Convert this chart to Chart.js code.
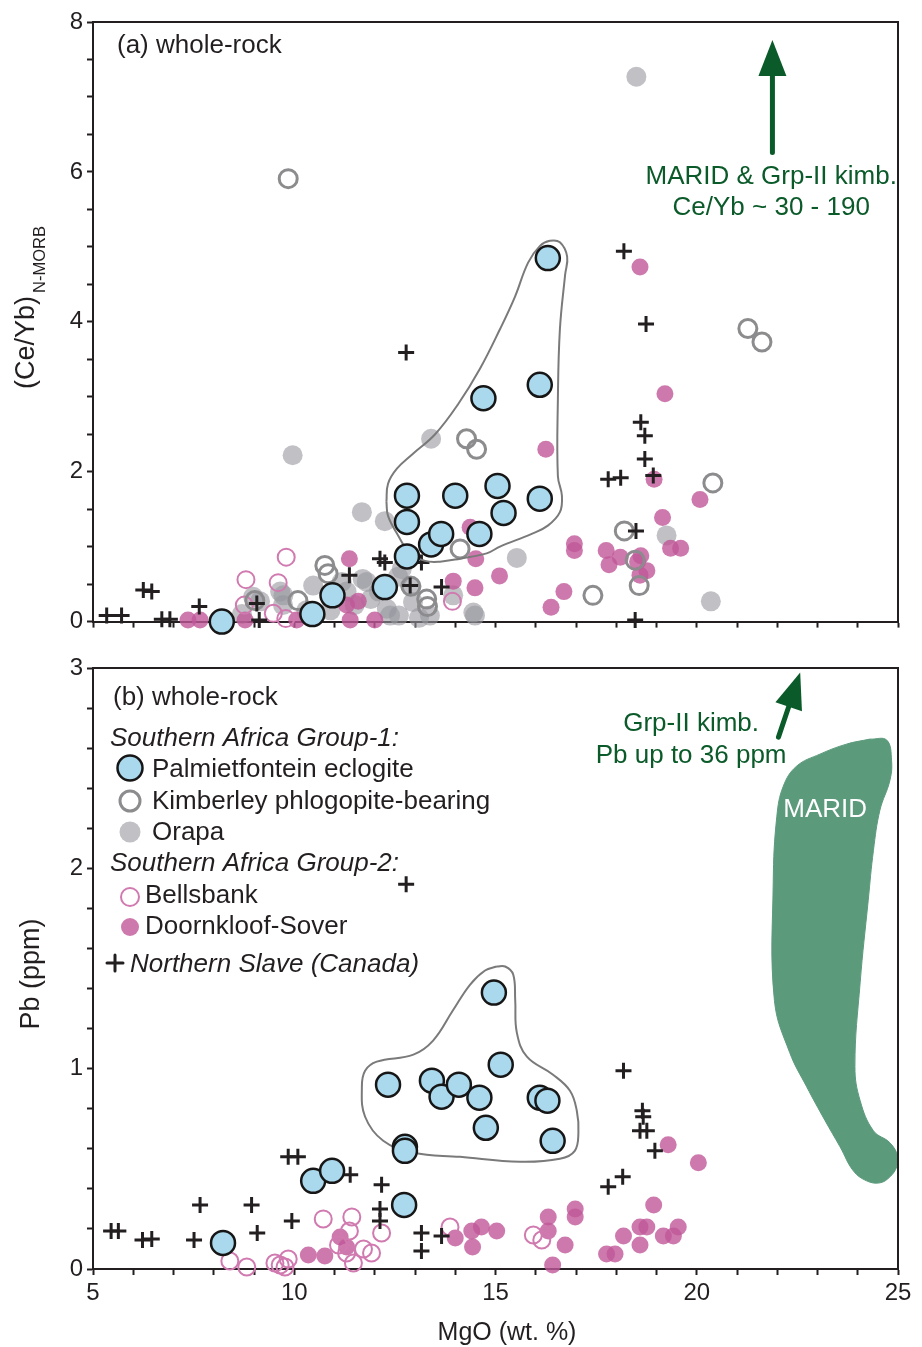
<!DOCTYPE html>
<html>
<head>
<meta charset="utf-8">
<title>MgO vs (Ce/Yb)N-MORB and Pb</title>
<script src="https://cdn.jsdelivr.net/npm/chart.js@4.4.1/dist/chart.umd.min.js"></script>
<style>
  html, body { margin: 0; padding: 0; background: #fff; }
  #wrap { position: relative; width: 922px; height: 1347px; }
  #wrap canvas { position: absolute; left: 0; }
  #chartA { top: 0; }
  #chartB { top: 640px; }
</style>
</head>
<body>
<div id="wrap">
  <canvas id="chartA" width="922" height="640"></canvas>
  <canvas id="chartB" width="922" height="707"></canvas>
</div>
<script>
// ---- panel (a): [MgO wt.%, (Ce/Yb)N-MORB] ----
const palmCeYb = [[8.2,0.0],[10.45,0.1],[10.95,0.35],[12.25,0.46],[12.8,0.87],[12.8,1.33],[12.8,1.68],[13.4,1.03],[13.65,1.17],[14.0,1.68],[14.6,1.17],[14.7,2.98],[15.05,1.81],[15.2,1.45],[16.1,3.16],[16.1,1.64],[16.3,4.85]];
const kimbCeYb = [[9.85,5.91],[21.27,3.91],[21.62,3.73],[20.4,1.85],[18.2,1.21],[18.47,0.82],[18.57,0.48],[17.42,0.35],[14.28,2.44],[14.53,2.3],[14.12,0.97],[10.76,0.75],[10.84,0.64],[10.09,0.28],[13.31,0.2],[13.29,0.3],[12.9,0.47],[9.02,0.28]];
const orapaCeYb = [[18.5,7.27],[9.96,2.22],[13.4,2.44],[11.68,1.46],[12.25,1.34],[15.53,0.85],[19.25,1.15],[20.35,0.27],[14.49,0.08],[11.7,0.57],[11.9,0.3],[12.3,0.17],[12.6,0.08],[12.95,0.26],[13.37,0.08],[13.95,0.35],[14.45,0.12],[12.58,0.6],[12.67,0.7],[11.5,0.22],[10.47,0.48],[9.73,0.35],[9.15,0.27],[11.18,0.53],[11.8,0.53],[12.88,0.48],[12.38,0.08],[8.98,0.33],[9.65,0.4],[9.72,0.22],[10.9,0.15],[11.3,0.4],[13.1,0.05],[12.1,0.4],[10.3,0.15],[8.7,0.1]];
const bellsCeYb = [[9.8,0.86],[8.8,0.56],[9.6,0.52],[8.76,0.22],[9.48,0.11],[9.79,0.04],[13.93,0.27],[10.4,0.08]];
const doornCeYb = [[18.59,4.73],[19.21,3.04],[16.25,2.3],[18.94,1.9],[20.08,1.63],[19.15,1.39],[19.35,0.98],[19.6,0.98],[16.96,1.04],[16.96,0.95],[17.75,0.95],[18.1,0.86],[17.82,0.76],[18.61,0.88],[18.53,0.8],[18.76,0.68],[18.59,0.62],[14.51,0.84],[15.1,0.61],[14.49,0.45],[16.7,0.4],[16.38,0.19],[14.37,1.26],[11.37,0.84],[13.95,0.54],[7.36,0.02],[7.66,0.02],[8.78,0.02],[10.06,0.02],[11.39,0.02],[12.0,0.02],[11.3,0.22],[11.59,0.27]];
const slaveCeYb = [[5.34,0.08],[5.71,0.08],[6.25,0.42],[6.46,0.4],[6.71,0.03],[6.91,0.03],[7.64,0.2],[9.13,0.02],[9.07,0.24],[11.37,0.62],[12.13,0.84],[12.25,0.79],[12.78,3.59],[13.66,0.46],[12.88,0.48],[13.16,0.79],[18.19,4.94],[18.74,3.97],[18.61,2.66],[18.71,2.48],[18.71,2.17],[18.92,1.95],[17.8,1.9],[18.11,1.92],[18.49,1.21],[18.47,0.02]];
// field drawn round the Palmietfontein samples
const palmFieldCeYb = [[12.29,1.6],[12.33,1.84],[12.55,2.04],[12.95,2.24],[13.5,2.5],[14.07,2.9],[14.61,3.37],[15.11,3.9],[15.48,4.33],[15.81,4.79],[16.1,5.01],[16.35,5.08],[16.6,5.06],[16.78,4.87],[16.73,4.63],[16.6,3.9],[16.55,2.97],[16.55,1.94],[16.65,1.68],[16.6,1.46],[16.3,1.28],[15.9,1.17],[15.11,1.0],[14.78,0.91],[14.12,0.84],[13.62,0.8],[13.25,0.81],[12.88,0.91],[12.58,1.15],[12.33,1.41],[12.29,1.6]];

// ---- panel (b): [MgO wt.%, Pb ppm] ----
const palmPb = [[8.23,0.13],[10.47,0.44],[10.94,0.49],[12.73,0.32],[12.75,0.61],[12.75,0.59],[12.33,0.92],[13.42,0.94],[13.66,0.86],[14.09,0.92],[14.6,0.855],[14.76,0.705],[14.96,1.38],[15.13,1.02],[16.1,0.855],[16.29,0.84],[16.42,0.64]];
const bellsPb = [[8.4,0.04],[8.82,0.01],[9.52,0.03],[9.65,0.02],[9.77,0.01],[9.85,0.05],[10.72,0.25],[11.43,0.26],[11.37,0.19],[12.17,0.18],[11.1,0.12],[11.3,0.08],[11.47,0.03],[11.72,0.1],[11.92,0.08],[13.87,0.21],[15.94,0.17],[16.15,0.145]];
const doornPb = [[10.35,0.07],[10.76,0.065],[11.14,0.16],[11.3,0.11],[14.0,0.155],[14.41,0.19],[14.65,0.21],[14.43,0.11],[15.03,0.19],[16.31,0.26],[16.31,0.19],[16.73,0.12],[16.42,0.02],[16.98,0.3],[16.98,0.26],[17.76,0.075],[17.97,0.075],[18.18,0.165],[18.59,0.21],[18.76,0.21],[18.59,0.12],[18.93,0.32],[19.17,0.165],[19.42,0.165],[19.54,0.21],[19.29,0.62],[20.04,0.53]];
const slavePb = [[5.45,0.19],[5.63,0.19],[6.23,0.145],[6.46,0.15],[7.51,0.145],[7.66,0.32],[8.94,0.32],[9.08,0.18],[9.94,0.24],[9.85,0.56],[10.09,0.56],[11.39,0.47],[12.17,0.42],[12.13,0.3],[12.13,0.24],[13.16,0.18],[13.16,0.09],[13.66,0.165],[12.78,1.92],[18.18,0.99],[18.65,0.79],[18.67,0.76],[18.59,0.69],[18.76,0.69],[18.96,0.59],[17.8,0.41],[18.16,0.46]];
const palmFieldPb = [[15.03,1.51],[14.74,1.49],[14.37,1.42],[13.94,1.29],[13.45,1.14],[12.96,1.07],[12.05,1.035],[11.76,0.99],[11.68,0.91],[11.76,0.76],[12.21,0.64],[12.96,0.58],[14.12,0.56],[15.61,0.535],[16.6,0.55],[16.97,0.59],[17.06,0.68],[17.02,0.79],[16.85,0.89],[16.43,0.97],[15.78,1.06],[15.53,1.18],[15.49,1.34],[15.44,1.47],[15.24,1.51],[15.03,1.51]];
const maridPb = [[24.3,2.645],[24.72,2.64],[24.84,2.54],[24.8,2.44],[24.55,2.29],[24.39,2.09],[24.26,1.84],[24.06,1.43],[23.93,1.01],[24.06,0.84],[24.39,0.69],[24.8,0.63],[25.0,0.56],[24.97,0.51],[24.8,0.46],[24.55,0.43],[24.22,0.44],[23.89,0.49],[23.56,0.61],[23.19,0.74],[22.73,0.91],[22.31,1.08],[21.93,1.34],[21.9,1.93],[21.99,2.26],[22.15,2.41],[22.48,2.51],[23.06,2.57],[23.72,2.62],[24.3,2.645]];

const FONT = '"Liberation Sans", Arial, Helvetica, sans-serif';
const INK = '#231f20';
const GREEN = '#0b5a2a';

const styles = {
  palm:  { pointRadius: 12, pointBackgroundColor: '#aad8ec', pointBorderColor: '#161616', pointBorderWidth: 2.5 },
  kimb:  { pointRadius: 9, pointBackgroundColor: 'rgba(0,0,0,0)', pointBorderColor: '#8c8c8e', pointBorderWidth: 3 },
  orapa: { pointRadius: 10, pointBackgroundColor: 'rgba(150,150,158,0.6)', pointBorderColor: 'rgba(0,0,0,0)', pointBorderWidth: 0 },
  bells: { pointRadius: 8.5, pointBackgroundColor: 'rgba(0,0,0,0)', pointBorderColor: '#d07ab0', pointBorderWidth: 2 },
  doorn: { pointRadius: 8.5, pointBackgroundColor: 'rgba(192,88,152,0.8)', pointBorderColor: 'rgba(0,0,0,0)', pointBorderWidth: 0 },
  slave: { pointStyle: 'cross', pointRadius: 8, pointBorderColor: INK, pointBorderWidth: 3 }
};

function toXY(arr) { return arr.map(p => ({ x: p[0], y: p[1] })); }

function points(label, arr, style) {
  return Object.assign({ label, data: toXY(arr), showLine: false, clip: false, pointStyle: 'circle' }, style,
    { pointHoverRadius: style.pointRadius });
}

function field(label, arr) {
  return { label, data: toXY(arr), showLine: true, pointRadius: 0, borderColor: '#7a7a7a', borderWidth: 2, tension: 0.4, fill: false };
}

function linAxis(min, max, step, labelFn, fit) {
  return {
    type: 'linear', min, max, afterFit: fit,
    ticks: { stepSize: step, autoSkip: false, maxRotation: 0, color: INK, padding: 4,
             font: { family: FONT, size: 24 }, callback: labelFn },
    grid: { drawOnChartArea: false, tickLength: 6, tickWidth: 2, tickColor: INK },
    border: { display: true, color: INK, width: 2 }
  };
}

function frame(chart) {
  const { ctx, chartArea: a } = chart;
  ctx.save();
  ctx.strokeStyle = INK; ctx.lineWidth = 2;
  ctx.beginPath();
  ctx.moveTo(a.left, a.top); ctx.lineTo(a.right, a.top); ctx.lineTo(a.right, a.bottom);
  ctx.stroke();
  ctx.restore();
}

function arrow(ctx, x0, y0, x1, y1) {
  const ang = Math.atan2(y1 - y0, x1 - x0);
  const len = 36, half = 14;
  const bx = x1 - len * Math.cos(ang), by = y1 - len * Math.sin(ang);
  ctx.strokeStyle = GREEN; ctx.fillStyle = GREEN; ctx.lineWidth = 5; ctx.lineCap = 'round';
  ctx.beginPath(); ctx.moveTo(x0, y0); ctx.lineTo(bx, by); ctx.stroke();
  ctx.beginPath();
  ctx.moveTo(x1, y1);
  ctx.lineTo(bx + half * Math.sin(ang), by - half * Math.cos(ang));
  ctx.lineTo(bx - half * Math.sin(ang), by + half * Math.cos(ang));
  ctx.closePath(); ctx.fill();
}

function text(ctx, s, x, y, opts) {
  opts = opts || {};
  ctx.font = (opts.italic ? 'italic ' : '') + (opts.size || 26) + 'px ' + FONT;
  ctx.fillStyle = opts.color || INK;
  ctx.textAlign = opts.align || 'left';
  ctx.textBaseline = 'middle';
  ctx.fillText(s, x, y);
}

function marker(ctx, kind, x, y) {
  const st = styles[kind];
  ctx.save();
  if (kind === 'slave') {
    ctx.strokeStyle = INK; ctx.lineWidth = 3;
    ctx.beginPath();
    ctx.moveTo(x - 8, y); ctx.lineTo(x + 8, y);
    ctx.moveTo(x, y - 8); ctx.lineTo(x, y + 8);
    ctx.stroke();
  } else {
    const r = { palm: 12.5, kimb: 10, orapa: 10.5, bells: 9, doorn: 9 }[kind];
    ctx.beginPath(); ctx.arc(x, y, r, 0, Math.PI * 2);
    ctx.fillStyle = st.pointBackgroundColor; ctx.fill();
    if (st.pointBorderWidth > 0) { ctx.lineWidth = st.pointBorderWidth; ctx.strokeStyle = st.pointBorderColor; ctx.stroke(); }
  }
  ctx.restore();
}

const decorA = {
  id: 'decorA',
  afterDraw(chart) {
    const ctx = chart.ctx, xs = chart.scales.x, ys = chart.scales.y;
    const px = v => xs.getPixelForValue(v), py = v => ys.getPixelForValue(v);
    frame(chart);
    ctx.save();
    text(ctx, '(a) whole-rock', 117, 46);
    arrow(ctx, px(21.88), py(6.26), px(21.88), py(7.76));
    text(ctx, 'MARID & Grp-II kimb.', px(21.85), py(5.93), { color: GREEN, align: 'center' });
    text(ctx, 'Ce/Yb ~ 30 - 190', px(21.85), py(5.52), { color: GREEN, align: 'center' });
    // y-axis title with subscript
    ctx.translate(27, 389);
    ctx.rotate(-Math.PI / 2);
    text(ctx, '(Ce/Yb)', 0, 0, { size: 27 });
    text(ctx, 'N-MORB', 96, 13, { size: 16.5 });
    ctx.restore();
  }
};

const decorB = {
  id: 'decorB',
  afterDraw(chart) {
    const ctx = chart.ctx, xs = chart.scales.x, ys = chart.scales.y;
    const px = v => xs.getPixelForValue(v), py = v => ys.getPixelForValue(v);
    frame(chart);
    ctx.save();
    text(ctx, 'MARID', px(23.19), py(2.29), { color: '#ffffff', align: 'center' });
    arrow(ctx, px(22.03), py(2.655), px(22.57), py(2.977));
    text(ctx, 'Grp-II kimb.', px(19.86), py(2.72), { color: GREEN, align: 'center' });
    text(ctx, 'Pb up to 36 ppm', px(19.86), py(2.56), { color: GREEN, align: 'center' });

    text(ctx, '(b) whole-rock', 113, 58);
    text(ctx, 'Southern Africa Group-1:', 110, 99, { italic: true });
    marker(ctx, 'palm', 130, 128);  text(ctx, 'Palmietfontein eclogite', 152, 130);
    marker(ctx, 'kimb', 130, 161);  text(ctx, 'Kimberley phlogopite-bearing', 152, 162);
    marker(ctx, 'orapa', 130, 192); text(ctx, 'Orapa', 152, 193);
    text(ctx, 'Southern Africa Group-2:', 110, 224, { italic: true });
    marker(ctx, 'bells', 130, 257); text(ctx, 'Bellsbank', 145, 256);
    marker(ctx, 'doorn', 130, 287); text(ctx, 'Doornkloof-Sover', 145, 287);
    marker(ctx, 'slave', 115, 323); text(ctx, 'Northern Slave (Canada)', 130, 325, { italic: true });

    text(ctx, 'MgO (wt. %)', 507, 693, { align: 'center', size: 25 });
    ctx.translate(32, 334);
    ctx.rotate(-Math.PI / 2);
    text(ctx, 'Pb (ppm)', 0, 0, { align: 'center', size: 27 });
    ctx.restore();
  }
};

const plainPlugins = { legend: { display: false }, tooltip: { enabled: false } };

new Chart(document.getElementById('chartA'), {
  type: 'scatter',
  data: {
    datasets: [
      points('Palmietfontein eclogite', palmCeYb, styles.palm),
      field('Palmietfontein field', palmFieldCeYb),
      points('Northern Slave (Canada)', slaveCeYb, styles.slave),
      points('Kimberley phlogopite-bearing', kimbCeYb, styles.kimb),
      points('Bellsbank', bellsCeYb, styles.bells),
      points('Doornkloof-Sover', doornCeYb, styles.doorn),
      points('Orapa', orapaCeYb, styles.orapa)
    ]
  },
  options: {
    responsive: false, animation: false, events: [],
    layout: { padding: { top: 22, right: 24, left: 0, bottom: 0 } },
    plugins: plainPlugins,
    scales: {
      x: linAxis(5, 25, 1, () => '', s => { s.height = 17; }),
      y: linAxis(0, 8, 0.5, v => (v % 2 === 0 ? String(v) : ''), s => { s.width = 93; })
    }
  },
  plugins: [decorA]
});

new Chart(document.getElementById('chartB'), {
  type: 'scatter',
  data: {
    datasets: [
      points('Palmietfontein eclogite', palmPb, styles.palm),
      field('Palmietfontein field', palmFieldPb),
      points('Northern Slave (Canada)', slavePb, styles.slave),
      points('Bellsbank', bellsPb, styles.bells),
      points('Doornkloof-Sover', doornPb, styles.doorn),
      { label: 'MARID', data: toXY(maridPb), showLine: true, pointRadius: 0, borderWidth: 1,
        borderColor: '#5b9a7b', backgroundColor: '#5b9a7b', tension: 0.4, fill: 'shape' }
    ]
  },
  options: {
    responsive: false, animation: false, events: [],
    layout: { padding: { top: 28, right: 24, left: 0, bottom: 0 } },
    plugins: plainPlugins,
    scales: {
      x: linAxis(5, 25, 1, v => (v % 5 === 0 ? String(v) : ''), s => { s.height = 78; }),
      y: linAxis(0, 3, 0.2, v => (Math.abs(v - Math.round(v)) < 1e-6 ? String(Math.round(v)) : ''), s => { s.width = 93; })
    }
  },
  plugins: [decorB]
});
</script>
</body>
</html>
